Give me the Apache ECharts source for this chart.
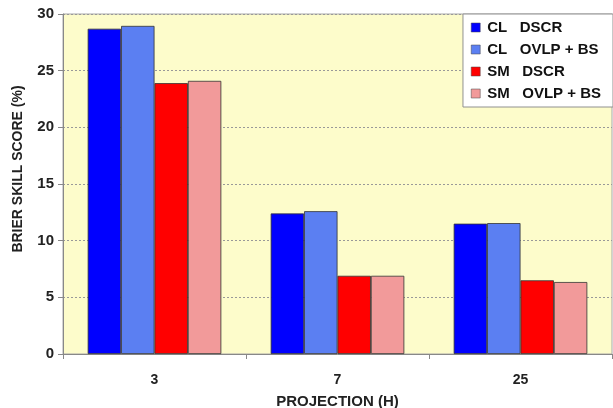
<!DOCTYPE html>
<html><head><meta charset="utf-8">
<script src="https://cdn.jsdelivr.net/npm/echarts@6/dist/echarts.min.js"></script>
<style>html,body{margin:0;padding:0;background:#fff}#c{width:613px;height:408px}</style>
</head><body><div id="c"></div>
<script>
const categories = ['3', '7', '25'];
const seriesNames = ['CL   DSCR', 'CL   OVLP + BS', 'SM   DSCR', 'SM   OVLP + BS'];
const clDscr = [28.7, 12.4, 11.5];
const clOvlp = [28.95, 12.6, 11.55];
const smDscr = [23.9, 6.9, 6.5];
const smOvlp = [24.1, 6.9, 6.35];
const yTicks = [0, 5, 10, 15, 20, 25, 30];
const colors = ['#0000ff', '#5b7ff2', '#ff0000', '#f29a9a'];

const chart = echarts.init(document.getElementById('c'), null, {renderer: 'canvas'});
const values = [clDscr, clOvlp, smDscr, smOvlp];
chart.setOption({
  animation: false,
  textStyle: {fontFamily: 'Liberation Sans, Arial, sans-serif'},
  grid: {left: 63, right: 1, top: 14, bottom: 54, show: true, containLabel: false, outerBoundsMode: 'none',
    backgroundColor: '#fdfccb', borderColor: '#a8a8a8', borderWidth: 1},
  legend: {
    orient: 'vertical', right: 0, top: 14,
    backgroundColor: '#ffffff', borderColor: '#909090', borderWidth: 1,
    padding: [6, 12, 6, 8], itemWidth: 9, itemHeight: 9, itemGap: 7, selectedMode: false,
    textStyle: {fontSize: 15, fontWeight: 'bold', color: '#111', padding: [0, 0, 0, 2]},
    data: seriesNames.map((n, i) => ({name: n, icon: 'rect', itemStyle: {color: colors[i], borderColor: '#444', borderWidth: 0.5}}))
  },
  xAxis: {
    type: 'category', data: categories,
    name: 'PROJECTION (H)', nameLocation: 'middle', nameGap: 40,
    nameTextStyle: {fontSize: 15, fontWeight: 'bold', color: '#222'},
    axisLine: {lineStyle: {color: '#888'}},
    axisTick: {show: true, length: 5, lineStyle: {color: '#888'}},
    axisLabel: {fontSize: 14, fontWeight: 'bold', color: '#222', margin: 19}
  },
  yAxis: {
    type: 'value', min: 0, max: 30, interval: 5,
    name: 'BRIER SKILL SCORE (%)', nameLocation: 'middle', nameGap: 38,
    nameTextStyle: {fontSize: 14, fontWeight: 'bold', color: '#222', padding: [0, 0, 0, 30]},
    axisLine: {show: true, lineStyle: {color: '#888'}},
    axisTick: {show: true, length: 5, lineStyle: {color: '#888'}},
    axisLabel: {fontSize: 15, fontWeight: 'bold', color: '#222', margin: 9,
      formatter: v => yTicks.includes(v) ? String(v) : ''},
    splitLine: {show: true, lineStyle: {color: '#999', type: [2, 2], width: 1}}
  },
  series: seriesNames.map((n, i) => ({
    name: n, type: 'bar', data: values[i],
    barGap: '0%', barCategoryGap: '27%',
    itemStyle: {color: colors[i], borderColor: '#333', borderWidth: 0.8}
  }))
});
</script></body></html>
